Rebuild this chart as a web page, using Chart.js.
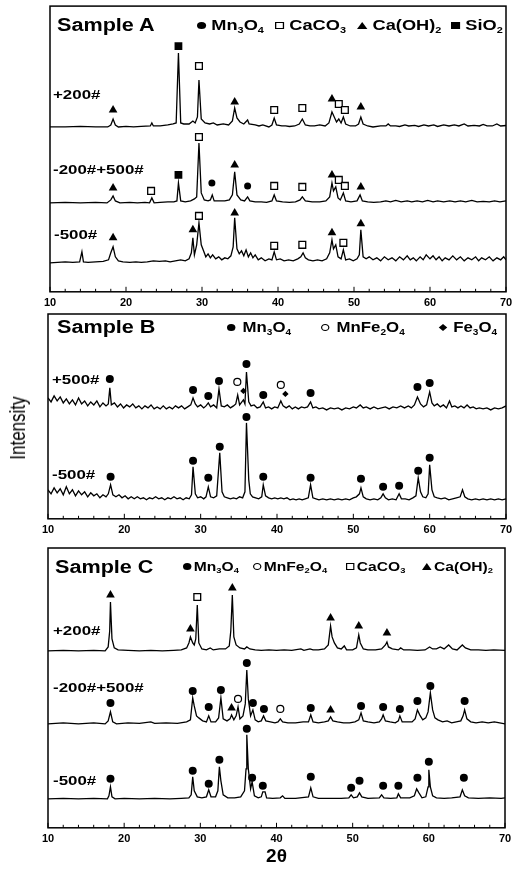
<!DOCTYPE html>
<html lang="en">
  <head>
    <meta charset="UTF-8" />
    <title>XRD patterns</title>
    <script src="https://cdn.jsdelivr.net/npm/chart.js"></script>
    <style>
      body { margin: 0; background: #fff; overflow: hidden; }
      #page { position: relative; width: 528px; height: 869px; overflow: hidden;
        font-family: "Liberation Sans", Arial, sans-serif; color: #000; }
      canvas { position: absolute; left: 0; }
      .txt { position: absolute; font-weight: bold; white-space: nowrap;
        transform-origin: left top; }
      .title { font-size: 18px; line-height: 18px; transform: scaleX(1.2); }
      .leg { font-size: 14px; line-height: 14px; transform: scaleX(1.3); }
      .legB { font-size: 14px; line-height: 14px; transform: scaleX(1.2); }
      .legC { font-size: 13px; line-height: 14px; transform: scaleX(1.2); }
      .trace { font-size: 13px; line-height: 14px; transform: scaleX(1.3); }
      sub { font-size: 0.6em; vertical-align: -0.3em; line-height: 0; }
      .sym { display: inline-block; vertical-align: middle; margin-right: 4px;
        position: relative; top: -1px; box-sizing: border-box; }
      .dot { width: 7px; height: 7px; border-radius: 50%; background: #000; }
      .odot { width: 7px; height: 7px; border-radius: 50%; border: 1px solid #000; }
      .osq { width: 7px; height: 7px; border: 1px solid #000; }
      .fsq { width: 7px; height: 7px; background: #000; }
      .tri { width: 0; height: 0; border-left: 4px solid transparent;
        border-right: 4px solid transparent; border-bottom: 7px solid #000; }
      .dia { width: 5px; height: 5px; background: #000; transform: rotate(45deg); }
      #ylab { position: absolute; left: 18px; top: 428px; font-size: 17px;
        transform: translate(-50%, -50%) rotate(-90deg) scaleY(1.3); white-space: nowrap; }
    </style>
  </head>
  <body>
    <div id="page">
      <canvas id="chartA" width="528" height="316" style="top:0px"></canvas>
      <canvas id="chartB" width="528" height="236" style="top:308px"></canvas>
      <canvas id="chartC" width="528" height="336" style="top:539px"></canvas>

      <div class="txt title" style="left:57px;top:16px">Sample A</div>
      <div class="txt leg" style="left:197px;top:18px"><span class="sym dot"></span>Mn<sub>3</sub>O<sub>4</sub></div>
      <div class="txt leg" style="left:275px;top:18px"><span class="sym osq"></span>CaCO<sub>3</sub></div>
      <div class="txt leg" style="left:357px;top:18px"><span class="sym tri"></span>Ca(OH)<sub>2</sub></div>
      <div class="txt leg" style="left:451px;top:18px"><span class="sym fsq"></span>SiO<sub>2</sub></div>
      <div class="txt trace" style="left:53px;top:88px">+200#</div>
      <div class="txt trace" style="left:53px;top:163px">-200#+500#</div>
      <div class="txt trace" style="left:54px;top:228px">-500#</div>

      <div class="txt title" style="left:57px;top:318px">Sample B</div>
      <div class="txt legB" style="left:227px;top:320px"><span class="sym dot" style="margin-right:6px"></span>Mn<sub>3</sub>O<sub>4</sub></div>
      <div class="txt legB" style="left:321px;top:320px"><span class="sym odot" style="margin-right:6px"></span>MnFe<sub>2</sub>O<sub>4</sub></div>
      <div class="txt legB" style="left:440px;top:320px"><span class="sym dia" style="margin-right:6px"></span>Fe<sub>3</sub>O<sub>4</sub></div>
      <div class="txt trace" style="left:52px;top:373px">+500#</div>
      <div class="txt trace" style="left:52px;top:468px">-500#</div>

      <div class="txt title" style="left:55px;top:558px">Sample C</div>
      <div class="txt legC" style="left:183px;top:560px"><span class="sym dot" style="margin-right:2px"></span>Mn<sub>3</sub>O<sub>4</sub></div>
      <div class="txt legC" style="left:253px;top:560px"><span class="sym odot" style="margin-right:2px"></span>MnFe<sub>2</sub>O<sub>4</sub></div>
      <div class="txt legC" style="left:346px;top:560px"><span class="sym osq" style="margin-right:2px"></span>CaCO<sub>3</sub></div>
      <div class="txt legC" style="left:422px;top:560px"><span class="sym tri" style="margin-right:2px"></span>Ca(OH)<sub>2</sub></div>
      <div class="txt trace" style="left:53px;top:624px">+200#</div>
      <div class="txt trace" style="left:53px;top:681px">-200#+500#</div>
      <div class="txt trace" style="left:53px;top:774px">-500#</div>

      <div id="ylab">Intensity</div>
    </div>

    <script>
      // patterns: [2theta, intensity above the trace baseline] (a.u.)
      // ---- Sample A ----
      const a_p200 = [[10,0],[12,0],[14,0.5],[16,0],[17.6,0],[18.0,2],[18.3,8],[18.6,2],[19.0,0],[20,0.5],[21,0],[22,0.5],[23.2,1],[23.4,4],[23.6,1],[24.5,1],[25.5,2],[26.2,3],[26.6,4],[26.9,74],[27.2,4],[27.6,3],[28.3,3],[28.8,6],[29.1,4],[29.4,10],[29.6,47],[29.9,8],[30.4,4],[31,3],[31.5,4],[32,2],[32.8,3],[33.5,2],[34.0,6],[34.3,19],[34.6,9],[35,5],[35.5,3],[36.0,7],[36.2,3],[37,2],[37.5,1],[38,2],[38.8,0],[39.2,2],[39.5,9],[39.8,2],[40.5,1],[41,1],[41.5,0.5],[42.2,1],[42.8,3],[43.2,8],[43.6,2],[44.2,1],[44.8,1],[45.5,2],[46.2,1],[46.7,4],[47.1,15],[47.4,10],[47.7,5],[48.0,8],[48.3,4],[48.6,10],[48.9,3],[49.5,1],[50.2,1],[50.6,3],[50.9,10],[51.2,3],[51.8,1],[52.5,0],[53.5,1],[54.2,1],[54.5,3],[54.8,1],[55.5,1],[56,0.5],[56.7,2],[57.2,1],[58,1.5],[58.5,0.5],[59.2,2],[59.8,1],[60.5,2],[61,0.5],[61.8,2],[62.5,1],[63.2,2],[63.8,1],[64.5,3],[65,1],[65.8,1.5],[66.5,1],[67,2.5],[67.5,1],[68.2,1],[68.8,3],[69.3,1],[70,1.5]];
      const a_m200p500 = [[10,0],[12,0.5],[14,0],[16,0.5],[17.5,0],[18.0,3],[18.3,7],[18.6,2],[19.2,0],[20.5,0.5],[21.5,0],[22.5,0.5],[23.1,0],[23.4,5],[23.7,0],[24.5,0.5],[25.5,1],[26.3,1],[26.7,2],[26.9,20],[27.2,2],[27.8,1],[28.5,2],[29.0,4],[29.3,6],[29.6,60],[29.9,10],[30.3,3],[30.8,2],[31.1,3],[31.35,8],[31.6,2],[32.2,2],[33,2],[33.6,3],[34.0,8],[34.3,31],[34.6,8],[35.1,3],[35.6,2],[36.0,6],[36.3,2],[37,1],[37.8,1],[38.5,0.5],[39.2,2],[39.5,8],[39.8,2],[40.6,1],[41.5,0.5],[42.3,1],[42.9,3],[43.2,6],[43.6,2],[44.5,1],[45.5,1],[46.3,2],[46.8,6],[47.1,20],[47.3,12],[47.6,16],[47.9,5],[48.2,3],[48.6,10],[48.9,2],[49.6,1],[50.4,2],[50.8,8],[51.1,2],[51.8,1],[52.6,0.5],[53.5,1],[54.2,2],[54.8,1],[55.5,2.5],[56.2,1],[57,2],[57.6,1],[58.3,2],[59,1],[59.7,2.5],[60.4,1],[61,2],[61.8,1],[62.6,2],[63.3,1],[64,2],[64.7,1],[65.5,2.5],[66.2,1],[67,1.5],[67.8,1],[68.5,2],[69.2,1],[70,2]];
      const a_m500 = [[10,0],[11,0.5],[12,1],[13,0.5],[13.9,1],[14.2,11],[14.4,1],[15,0.5],[16,1],[17,1.5],[17.7,3],[18.0,10],[18.3,16],[18.6,6],[19,2],[19.6,1],[20.5,0.5],[21.3,1],[22,0.5],[22.8,1],[23.6,2],[24.4,1.5],[25.2,2],[25.8,1],[26.5,2],[27.2,3],[27.8,2],[28.3,4],[28.6,10],[28.8,25],[29.0,8],[29.3,18],[29.6,40],[29.9,18],[30.2,12],[30.5,6],[30.8,9],[31.1,5],[31.4,8],[31.8,4],[32.2,6],[32.6,3],[33,5],[33.4,4],[33.8,7],[34.1,16],[34.3,45],[34.6,14],[34.9,9],[35.2,12],[35.5,7],[35.8,13],[36.1,6],[36.4,10],[36.7,5],[37,8],[37.4,3],[37.8,5],[38.3,2],[38.8,4],[39.2,3],[39.5,11],[39.8,3],[40.3,4],[40.8,2],[41.4,3],[42,2],[42.6,4],[43.0,6],[43.3,10],[43.6,5],[44,3],[44.6,2],[45.2,3],[45.8,2],[46.4,4],[46.8,10],[47.1,23],[47.3,14],[47.6,18],[47.9,6],[48.3,4],[48.6,13],[48.9,3],[49.4,4],[49.9,2],[50.4,4],[50.7,8],[50.9,33],[51.2,6],[51.6,4],[52,6],[52.5,3],[53,5],[53.5,2],[54,6],[54.5,3],[55,5],[55.5,2],[56,6],[56.5,3],[57,7],[57.4,3],[57.8,5],[58.2,2],[58.7,6],[59.1,3],[59.5,8],[60,4],[60.4,7],[60.8,3],[61.2,6],[61.6,2],[62,5],[62.5,3],[63,7],[63.5,3],[64,6],[64.5,2],[65,5],[65.5,3],[66,6],[66.4,2],[66.8,5],[67.3,3],[67.8,6],[68.3,2],[68.8,5],[69.3,3],[69.7,6],[70,3]];
      const offsetsA = [165, 89, 29];

      // phase marks: [2theta, trace index, height above that trace's baseline]
      const aMn3O4 = [[31.3,1,20],[36.0,1,17]];
      const aCaCO3 = [[29.6,0,61],[39.5,0,17],[43.2,0,19],[48.0,0,23],[48.8,0,17],[23.3,1,12],[29.6,1,66],[39.5,1,17],[43.2,1,16],[48.0,1,23],[48.8,1,17],[29.6,2,47],[39.5,2,17],[43.2,2,18],[48.6,2,20]];
      const aCaOH2 = [[18.3,0,17],[34.3,0,25],[47.1,0,28],[50.9,0,20],[18.3,1,15],[34.3,1,38],[47.1,1,28],[50.9,1,16],[18.3,2,25],[28.8,2,33],[34.3,2,50],[47.1,2,30],[50.9,2,39]];
      const aSiO2 = [[26.9,0,81],[26.9,1,28]];

      // ---- Sample B ----
      const b_p500 = [[10,12],[10.4,8],[10.8,14],[11.2,9],[11.6,13],[12,7],[12.4,11],[12.8,6],[13.2,10],[13.6,5],[14,12],[14.4,6],[14.8,9],[15.2,4],[15.6,8],[16,5],[16.4,9],[16.8,3],[17.2,7],[17.6,4],[17.9,6],[18.1,22],[18.3,5],[18.7,7],[19.1,3],[19.5,6],[19.9,2],[20.3,5],[20.7,3],[21.1,6],[21.5,2],[21.9,4],[22.3,1],[22.7,4],[23.1,2],[23.5,5],[23.9,1],[24.3,3],[24.7,1],[25.1,4],[25.5,1],[25.9,3],[26.3,1],[26.7,4],[27.1,2],[27.5,4],[27.9,1],[28.3,3],[28.7,5],[29.0,12],[29.3,6],[29.6,3],[30,5],[30.4,2],[30.7,4],[31.0,7],[31.3,3],[31.7,5],[32.1,2],[32.4,21],[32.7,4],[33.1,3],[33.5,5],[33.9,2],[34.3,4],[34.6,6],[34.85,15],[35.1,5],[35.4,8],[35.6,10],[35.8,6],[36.0,38],[36.3,8],[36.6,4],[37,5],[37.4,2],[37.8,3],[38.2,8],[38.5,2],[38.9,3],[39.3,1],[39.7,3],[40.1,2],[40.5,9],[40.8,4],[41.2,2],[41.6,4],[42,1],[42.4,3],[42.8,1],[43.2,3],[43.6,2],[44.0,3],[44.4,8],[44.7,2],[45.1,3],[45.5,1],[46,2],[46.5,0],[47,2],[47.5,1],[48,2],[48.5,0],[49,2],[49.5,1],[50,3],[50.4,2],[50.9,5],[51.3,2],[51.7,3],[52.2,1],[52.7,3],[53.2,1],[53.7,2],[54.2,3],[54.7,1],[55.2,3],[55.7,2],[56.2,4],[56.7,2],[57.2,4],[57.6,2],[58.0,5],[58.4,13],[58.8,6],[59.2,3],[59.6,5],[60.0,18],[60.3,7],[60.6,4],[61,6],[61.4,3],[61.8,5],[62.2,2],[62.6,9],[62.9,3],[63.3,4],[63.7,2],[64.1,4],[64.5,2],[64.9,5],[65.3,2],[65.7,3],[66.1,1],[66.5,2],[67,1],[67.5,2],[68,0],[68.5,2],[69,1],[69.5,2],[70,4]];
      const b_m500 = [[10,10],[10.4,6],[10.8,12],[11.2,7],[11.6,11],[12,5],[12.4,13],[12.8,6],[13.2,10],[13.6,4],[14,9],[14.4,5],[14.8,8],[15.2,3],[15.6,7],[16,4],[16.4,6],[16.8,2],[17.2,5],[17.6,3],[17.9,6],[18.2,15],[18.5,5],[18.9,3],[19.3,5],[19.7,2],[20.1,4],[20.5,1],[20.9,3],[21.3,1],[21.7,3],[22.1,1],[22.5,2],[22.9,0],[23.3,2],[23.7,1],[24.1,3],[24.5,1],[24.9,2],[25.3,0],[25.7,2],[26.1,1],[26.5,3],[26.9,1],[27.3,2],[27.7,0],[28.1,2],[28.5,1],[28.8,5],[29.0,33],[29.3,6],[29.6,2],[30,3],[30.4,1],[30.7,3],[31.0,13],[31.3,3],[31.7,2],[32.1,4],[32.5,47],[32.8,8],[33.1,3],[33.5,2],[33.9,1],[34.3,2],[34.7,1],[35.1,3],[35.5,2],[35.8,8],[36.0,77],[36.3,20],[36.5,6],[36.8,3],[37.2,2],[37.6,1],[38.0,3],[38.2,15],[38.5,4],[38.9,2],[39.3,1],[39.7,2],[40.1,1],[40.5,2],[40.9,1],[41.3,2],[41.7,0],[42.1,1],[42.5,0],[42.9,1],[43.3,0],[43.7,1],[44.1,2],[44.4,15],[44.7,2],[45.1,1],[45.5,0],[46,1],[46.5,0],[47,1],[47.5,0],[48,1],[48.5,0],[49,1],[49.5,0],[50,2],[50.4,3],[50.8,6],[51.0,12],[51.3,3],[51.7,1],[52.2,0],[52.7,1],[53.2,0],[53.6,2],[53.9,6],[54.2,2],[54.6,0],[55.1,1],[55.6,0],[56.0,6],[56.3,1],[56.8,1],[57.3,0],[57.8,2],[58.2,4],[58.5,22],[58.8,8],[59.1,3],[59.5,2],[59.8,6],[60.0,35],[60.3,10],[60.6,3],[61,2],[61.5,1],[62,2],[62.5,0],[63,1],[63.5,2],[64,3],[64.3,10],[64.6,3],[65,1],[65.5,0],[66,1],[66.5,0],[67,1],[67.5,0],[68,1],[68.5,0],[69,1],[69.5,0],[70,1]];
      const offsetsB = [109, 19];

      const bMn3O4 = [[18.1,0,31],[29.0,0,20],[31.0,0,14],[32.4,0,29],[36.0,0,46],[38.2,0,15],[44.4,0,17],[58.4,0,23],[60.0,0,27],[18.2,1,23],[29.0,1,39],[31.0,1,22],[32.5,1,53],[36.0,1,83],[38.2,1,23],[44.4,1,22],[51.0,1,21],[53.9,1,13],[56.0,1,14],[58.5,1,29],[60.0,1,42]];
      const bMnFe2O4 = [[34.8,0,28],[40.5,0,25]];
      const bFe3O4 = [[35.6,0,19],[41.1,0,16]];

      // ---- Sample C ----
      const c_p200 = [[10,0],[12,0.5],[14,0],[16,0.5],[17.5,0],[17.9,4],[18.1,20],[18.2,49],[18.4,12],[18.7,3],[19.2,1],[20.5,0.5],[22,0],[23.5,0.5],[25,0],[26.5,0.5],[27.5,1],[28.2,3],[28.5,8],[28.7,14],[29.0,8],[29.2,6],[29.4,12],[29.6,46],[29.8,8],[30.2,2],[30.8,1],[31.3,3],[31.7,1],[32.5,2],[33.3,2],[33.8,5],[34.0,20],[34.2,56],[34.4,14],[34.7,6],[35.2,3],[35.8,2],[36.1,4],[36.5,2],[37.2,1],[38,0.5],[39,1],[40,0.5],[41,1],[42,0.5],[43.2,2],[43.6,0.5],[44.4,2],[44.8,1],[45.5,1],[46.3,2],[46.8,6],[47.1,25],[47.3,14],[47.6,8],[48,3],[48.5,2],[48.9,5],[49.2,1],[50,1],[50.5,3],[50.8,16],[51.0,8],[51.4,2],[52,1],[53,1],[53.8,2],[54.3,6],[54.5,9],[54.7,4],[55.2,2],[56,1],[56.3,3],[56.7,1],[57.5,1],[58.5,0.5],[59.5,1],[60.1,4],[60.5,2],[61,2],[61.5,4],[62,2],[62.6,6],[63.1,2],[63.7,1],[64.4,6],[64.8,3],[65.5,1],[66.5,1],[67.5,0.5],[68.5,1],[70,0.5]];
      const c_m200p500 = [[10,0],[12,1],[14,0],[16,1],[17.5,0],[17.9,3],[18.2,12],[18.5,2],[19,0],[20.5,1],[22,0.5],[23.5,2],[24,0.5],[25.5,1],[27,0.5],[28.2,2],[28.7,4],[29.0,26],[29.2,18],[29.5,8],[29.8,6],[30.3,3],[30.8,2],[31.1,8],[31.4,2],[32,2],[32.4,6],[32.7,26],[33.0,5],[33.5,3],[33.9,5],[34.1,9],[34.4,4],[34.7,8],[34.95,17],[35.2,5],[35.6,8],[35.9,20],[36.1,54],[36.3,25],[36.6,8],[36.9,14],[37.2,4],[37.6,2],[38.0,3],[38.3,8],[38.6,3],[39.2,2],[39.8,1],[40.2,2],[40.5,5],[40.8,2],[41.5,1],[42.5,1],[43.5,2],[44.2,2],[44.5,9],[44.8,2],[45.5,1],[46.3,2],[46.8,3],[47.1,7],[47.4,3],[48,2],[48.8,1],[49.6,1],[50.3,2],[50.8,4],[51.1,11],[51.4,3],[52,2],[52.8,1],[53.5,2],[53.8,5],[54.0,9],[54.3,3],[54.9,2],[55.6,1],[56.0,3],[56.2,8],[56.5,2],[57.2,2],[57.8,2],[58.2,5],[58.5,14],[58.8,9],[59.2,4],[59.6,6],[59.9,12],[60.2,31],[60.5,14],[60.8,6],[61.2,4],[61.8,2],[62.4,3],[63,1],[63.6,2],[64.2,3],[64.5,8],[64.7,14],[65,5],[65.5,2],[66.2,1],[67,2],[67.8,1],[68.6,2],[69.3,1],[70,0]];
      const c_m500 = [[10,0],[12,0.5],[14,0],[16,0.5],[17.8,0],[18.0,3],[18.2,12],[18.4,2],[18.8,0],[20,0.5],[22,0],[24,0.5],[26,0],[27.5,0.5],[28.5,1],[28.8,4],[29.0,22],[29.2,8],[29.6,2],[30.2,1],[30.8,2],[31.1,9],[31.4,2],[32.0,2],[32.3,8],[32.5,32],[32.7,18],[33.0,4],[33.6,1],[34.5,1],[35.3,2],[35.8,8],[36.0,30],[36.1,64],[36.3,30],[36.6,10],[36.8,17],[37.1,3],[37.6,1],[38.0,2],[38.2,7],[38.5,7],[38.7,1],[39.5,0.5],[40.5,1],[40.8,3],[41.1,0.5],[42.5,0.5],[44.2,2],[44.5,11],[44.8,2],[45.5,0.5],[47,0.5],[48.5,0.5],[49.5,1],[49.8,4],[50.1,1],[50.6,2],[50.9,6],[51.2,2],[52,0.5],[53.5,1],[53.8,4],[54.1,1],[55,0.5],[55.8,1],[56.0,5],[56.3,1],[57.5,1],[58.1,3],[58.4,10],[58.7,6],[59.1,1],[59.6,2],[59.9,12],[60.0,29],[60.2,12],[60.5,3],[61,1],[62,0.5],[63,1],[64.1,2],[64.4,9],[64.7,3],[65.2,1],[66.5,0.5],[68,1],[69.5,0.5],[70,1]];
      const offsetsC = [177, 104, 29];

      const cMn3O4 = [[18.2,1,21],[29.0,1,33],[31.1,1,17],[32.7,1,34],[36.1,1,61],[36.9,1,21],[38.35,1,15],[44.5,1,16],[51.1,1,18],[54.0,1,17],[56.2,1,15],[58.5,1,23],[60.2,1,38],[64.7,1,23],[18.2,2,20],[29.0,2,28],[31.1,2,15],[32.5,2,39],[36.1,2,70],[36.8,2,21],[38.2,2,13],[44.5,2,22],[49.8,2,11],[50.9,2,18],[54.0,2,13],[56.0,2,13],[58.5,2,21],[60.0,2,37],[64.6,2,21]];
      const cMnFe2O4 = [[34.95,1,25],[40.5,1,15]];
      const cCaCO3 = [[29.6,0,54]];
      const cCaOH2 = [[18.2,0,56],[28.7,0,22],[34.2,0,63],[47.1,0,33],[50.8,0,25],[54.5,0,18],[34.1,1,16],[47.1,1,14]];

      const fontFamily = "'Liberation Sans', Arial, sans-serif";

      // box round the plot and short inward ticks at the x scale's ticks
      const framePlugin = {
        id: "frame",
        afterDatasetsDraw(chart) {
          const { ctx, chartArea: a } = chart;
          const x = chart.scales.x;
          ctx.save();
          ctx.strokeStyle = "#000";
          ctx.lineWidth = 1.5;
          ctx.strokeRect(a.left, a.top, a.right - a.left, a.bottom - a.top);
          ctx.lineWidth = 1;
          x.ticks.forEach((t) => {
            const px = x.getPixelForValue(t.value);
            const len = t.value % 10 === 0 ? 5 : 3;
            ctx.beginPath();
            ctx.moveTo(px, a.bottom);
            ctx.lineTo(px, a.bottom - len);
            ctx.stroke();
          });
          ctx.restore();
        },
      };

      function traceSet(points, offset) {
        return {
          data: points.map((p) => ({ x: p[0], y: p[1] + offset })),
          borderColor: "#000",
          borderWidth: 1.3,
          pointRadius: 0,
          tension: 0,
          fill: false,
          order: 2,
        };
      }

      function markSet(marks, offsets, style) {
        return Object.assign(
          {
            type: "scatter",
            data: marks.map((m) => ({ x: m[0], y: offsets[m[1]] + m[2] })),
            showLine: false,
            borderColor: "#000",
            order: 1,
          },
          style
        );
      }

      const sDot = (r) => ({ pointStyle: "circle", pointRadius: r, backgroundColor: "#000", borderWidth: 0 });
      const sOpenDot = { pointStyle: "circle", pointRadius: 3.5, backgroundColor: "#fff", borderWidth: 1.2 };
      const sOpenSq = { pointStyle: "rect", pointRadius: 4.8, backgroundColor: "#fff", borderWidth: 1.3 };
      const sFillSq = { pointStyle: "rect", pointRadius: 5.5, backgroundColor: "#000", borderWidth: 0 };
      const sTri = { pointStyle: "triangle", pointRadius: 5, backgroundColor: "#000", borderWidth: 0 };
      const sDia = { pointStyle: "rectRot", pointRadius: 3.2, backgroundColor: "#000", borderWidth: 0 };

      function makeChart(id, yMax, datasets, padding, withTitle) {
        new Chart(document.getElementById(id), {
          type: "line",
          data: { datasets },
          options: {
            responsive: false,
            animation: false,
            events: [],
            layout: { padding },
            plugins: { legend: { display: false }, tooltip: { enabled: false } },
            scales: {
              x: {
                type: "linear",
                min: 10,
                max: 70,
                grid: { display: false, drawTicks: false },
                border: { display: false },
                ticks: {
                  stepSize: 2,
                  autoSkip: false,
                  maxRotation: 0,
                  padding: 5,
                  color: "#000",
                  font: { family: fontFamily, size: 11, weight: "bold" },
                  callback: (v) => (v % 10 === 0 ? String(v) : ""),
                },
                title: {
                  display: withTitle,
                  text: "2θ",
                  color: "#000",
                  padding: { top: -4, bottom: 4 },
                  font: { family: fontFamily, size: 19, weight: "bold", lineHeight: 1 },
                },
              },
              y: { display: false, min: 0, max: yMax },
            },
          },
          plugins: [framePlugin],
        });
      }

      makeChart(
        "chartA",
        286,
        [
          traceSet(a_p200, offsetsA[0]),
          traceSet(a_m200p500, offsetsA[1]),
          traceSet(a_m500, offsetsA[2]),
          markSet(aMn3O4, offsetsA, sDot(3.5)),
          markSet(aCaCO3, offsetsA, sOpenSq),
          markSet(aCaOH2, offsetsA, sTri),
          markSet(aSiO2, offsetsA, sFillSq),
        ],
        { left: 50, right: 22, top: 6, bottom: 1 },
        false
      );

      makeChart(
        "chartB",
        205,
        [
          traceSet(b_p500, offsetsB[0]),
          traceSet(b_m500, offsetsB[1]),
          markSet(bMn3O4, offsetsB, sDot(4)),
          markSet(bMnFe2O4, offsetsB, sOpenDot),
          markSet(bFe3O4, offsetsB, sDia),
        ],
        { left: 48, right: 22, top: 6, bottom: 2 },
        false
      );

      makeChart(
        "chartC",
        280,
        [
          traceSet(c_p200, offsetsC[0]),
          traceSet(c_m200p500, offsetsC[1]),
          traceSet(c_m500, offsetsC[2]),
          markSet(cMn3O4, offsetsC, sDot(4)),
          markSet(cMnFe2O4, offsetsC, sOpenDot),
          markSet(cCaCO3, offsetsC, sOpenSq),
          markSet(cCaOH2, offsetsC, sTri),
        ],
        { left: 48, right: 23, top: 9, bottom: 5 },
        true
      );
    </script>
  </body>
</html>
